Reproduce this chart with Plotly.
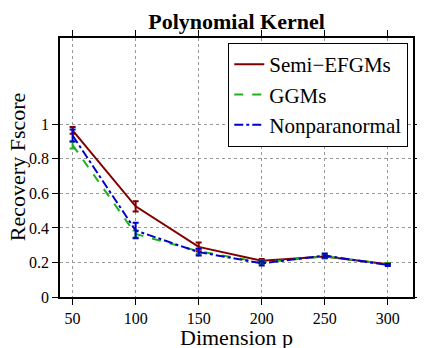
import plotly.graph_objects as go

# data
dims = [50, 100, 150, 200, 250, 300]
semi_efgms = [0.965, 0.525, 0.29, 0.21, 0.235, 0.19]
semi_err = [0.02, 0.03, 0.025, 0.01, 0.01, 0.005]
ggms = [0.88, 0.365, 0.265, 0.20, 0.235, 0.19]
ggms_err = [0.02, 0.02, 0.015, 0.01, 0.01, 0.005]
nonpara = [0.935, 0.385, 0.26, 0.195, 0.24, 0.185]
nonpara_err = [0.035, 0.045, 0.02, 0.012, 0.012, 0.006]

font = "Times New Roman"  # resolves to Liberation Serif

series = [
    ("Semi\u2212EFGMs", semi_efgms, semi_err, "#800000", "solid"),
    ("GGMs", ggms, ggms_err, "#1fb01f", "dash"),
    ("Nonparanormal", nonpara, nonpara_err, "#0000c8", "dashdot"),
]

fig = go.Figure()
for name, vals, err, col, dash in series:
    fig.add_trace(go.Scatter(
        x=dims, y=vals, name=name, mode="lines",
        line=dict(color=col, width=2, dash=dash),
        error_y=dict(type="data", array=err, color=col, thickness=2, width=3),
    ))

axis_common = dict(
    showline=True, linecolor="black", linewidth=1.5, mirror="ticks",
    ticks="outside", ticklen=6, tickcolor="black", tickwidth=1.2,
    showgrid=True, gridcolor="#999999", griddash="dot", gridwidth=1,
    zeroline=False, automargin=False, tickmode="array",
    tickfont=dict(family=font, size=16, color="black"),
)

# page body has an 8px margin, so the figure is shrunk by that much
fig.update_layout(
    width=417, height=340,
    font=dict(family=font, color="black"),
    paper_bgcolor="white", plot_bgcolor="white",
    margin=dict(l=52, r=12, t=30, b=51),
    title=dict(text="<b>Polynomial Kernel</b>", x=0.548, xanchor="center",
               y=0.962, yanchor="middle",
               font=dict(family=font, size=22, color="black")),
    xaxis=dict(range=[40, 320], tickvals=dims, **axis_common),
    yaxis=dict(range=[0, 1.5], tickvals=[0, 0.2, 0.4, 0.6, 0.8, 1],
               ticktext=["0", "0.2", "0.4", "0.6", "0.8", "1"], **axis_common),
    legend=dict(x=0.986, y=0.981, xanchor="right", yanchor="top",
                bgcolor="white", bordercolor="black", borderwidth=1.2,
                font=dict(family=font, size=21, color="black"),
                tracegroupgap=0, itemwidth=30),
    showlegend=True,
)

# axis titles as annotations for exact placement
fig.add_annotation(text="Dimension p", xref="paper", yref="paper",
                   x=0.5, y=-0.156, xanchor="center", yanchor="middle",
                   showarrow=False, font=dict(family=font, size=22, color="black"))
fig.add_annotation(text="Recovery Fscore", xref="paper", yref="paper",
                   x=-0.12, y=0.5, xanchor="center", yanchor="middle",
                   textangle=-90, showarrow=False,
                   font=dict(family=font, size=22, color="black"))

fig.write_html("out.html")
